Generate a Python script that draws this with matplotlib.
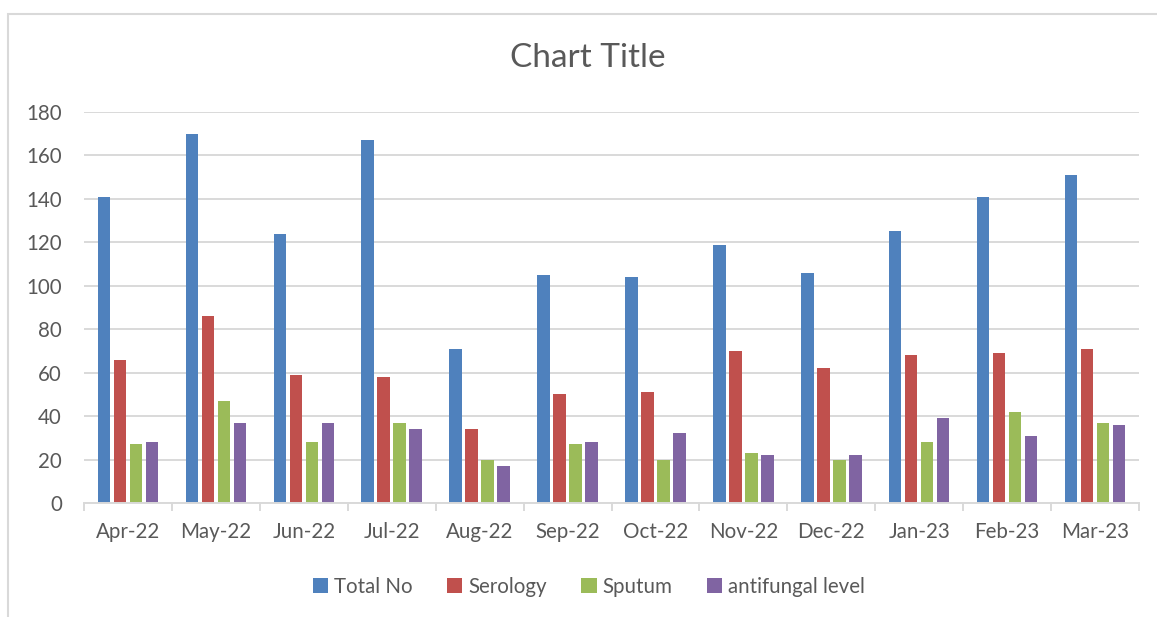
import matplotlib
matplotlib.use("Agg")
import matplotlib.pyplot as plt
import numpy as np
from matplotlib.patches import Rectangle
from matplotlib.ticker import FixedLocator

plt.rcParams['font.family'] = ['Lato', 'DejaVu Sans']

months = ["Apr-22", "May-22", "Jun-22", "Jul-22", "Aug-22", "Sep-22",
          "Oct-22", "Nov-22", "Dec-22", "Jan-23", "Feb-23", "Mar-23"]
total_no = [141, 170, 124, 167, 71, 105, 104, 119, 106, 125, 141, 151]
serology = [66, 86, 59, 58, 34, 50, 51, 70, 62, 68, 69, 71]
sputum = [27, 47, 28, 37, 20, 27, 20, 23, 20, 28, 42, 37]
antifungal = [28, 37, 37, 34, 17, 28, 32, 22, 22, 39, 31, 36]

series = [("Total No", total_no, "#4f81bd"),
          ("Serology", serology, "#c0504d"),
          ("Sputum", sputum, "#9bbb59"),
          ("antifungal level", antifungal, "#8064a2")]

W, H = 1157, 617
fig = plt.figure(figsize=(W / 100, H / 100), dpi=100)
fig.patch.set_facecolor("white")

# chart frame (runs off the right and bottom edges)
frame = Rectangle((8 / W, -0.2), 1.2, 1.2 - 13.5 / H, transform=fig.transFigure,
                  fill=False, edgecolor="#d9d9d9", linewidth=1.5, zorder=0)
fig.add_artist(frame)

ax = fig.add_axes([84 / W, 1 - 503 / H, (1139 - 84) / W, (503 - 112) / H])
text_color = "#595959"
grid_color = "#d9d9d9"

x = np.arange(len(months))
step = 0.182
bw = 0.143
for i, (name, vals, col) in enumerate(series):
    ax.bar(x + (i - 1.5) * step, vals, width=bw, color=col, label=name, zorder=3)

ax.set_xlim(-0.5, len(months) - 0.5)
ax.set_ylim(0, 180)
ax.set_yticks(np.arange(0, 181, 20))
ax.yaxis.grid(True, color=grid_color, linewidth=1.4, zorder=0)
ax.set_axisbelow(True)

for s in ["top", "right", "left"]:
    ax.spines[s].set_visible(False)
ax.spines["bottom"].set_color(grid_color)
ax.spines["bottom"].set_linewidth(1.4)
ax.spines["bottom"].set_zorder(4)

ax.set_xticks(x)
ax.set_xticklabels(months)
ax.xaxis.set_minor_locator(FixedLocator(np.arange(-0.5, len(months), 1.0)))
ax.tick_params(axis="x", which="major", length=0, pad=14, labelsize=14.8, labelcolor=text_color)
ax.tick_params(axis="x", which="minor", length=6, width=1.4, color=grid_color)
ax.tick_params(axis="y", length=0, pad=16, labelsize=14.8, labelcolor=text_color)

fig.text(588 / W, 1 - 58 / H, "Chart Title", ha="center", va="center",
         fontsize=24, color=text_color)

handles, labels = ax.get_legend_handles_labels()
leg = fig.legend(handles, labels, loc="center", bbox_to_anchor=(589 / W, 1 - 587 / H),
                 ncol=4, frameon=False, fontsize=14.8, handlelength=0.75, handleheight=0.75,
                 handletextpad=0.3, columnspacing=1.65, labelcolor=text_color)

fig.savefig("out.png", dpi=100, facecolor="white")
